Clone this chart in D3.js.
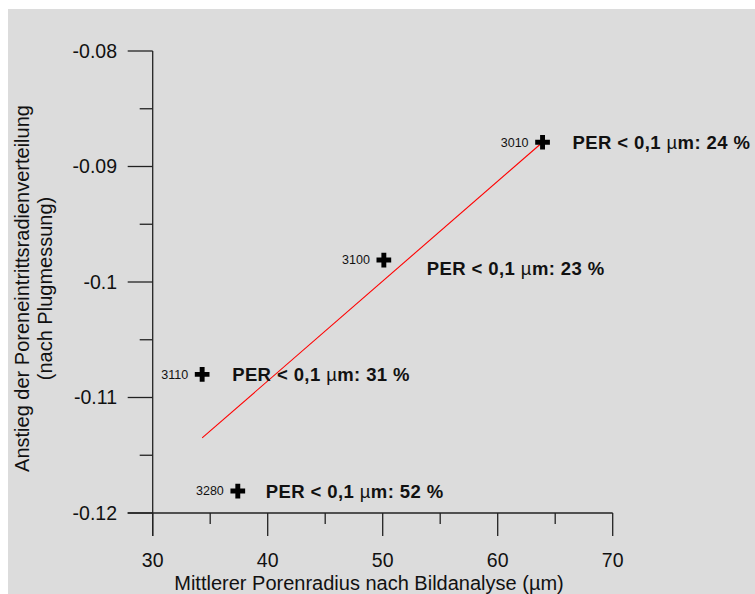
<!DOCTYPE html>
<html>
<head>
<meta charset="utf-8">
<script src="https://cdn.jsdelivr.net/npm/d3@7/dist/d3.min.js"></script>
<style>
html,body{margin:0;padding:0;background:#fff;}
svg{display:block;font-family:"Liberation Sans",Arial,sans-serif;}
</style>
</head>
<body>
<svg id="chart" width="755" height="594"></svg>
<script>
// ---- data ----
const sampleIds = ["3010", "3100", "3110", "3280"];
const meanPoreRadius = [63.9, 50.1, 34.3, 37.4];          // x (µm)
const slopeValues = [-0.0879, -0.0981, -0.1080, -0.1181];  // y
const perPercent = [24, 23, 31, 52];
const fitX = [34.3, 63.9];
const fitY = [-0.1135, -0.0879];
const xTicks = [30, 40, 50, 60, 70];
const yTicks = [-0.08, -0.09, -0.1, -0.11, -0.12];
const yTickLabels = ["-0.08", "-0.09", "-0.1", "-0.11", "-0.12"];

// ---- layout (pixel offsets for annotations, not data) ----
const perOffsets = [[30, 0], [43, 8], [30, 0], [28, 0]];

const svg = d3.select("#chart");
svg.append("rect").attr("x", 8).attr("y", 9).attr("width", 747).attr("height", 585).attr("fill", "#dcdcdc");

const x = d3.scaleLinear().domain([30, 70]).range([152.7, 612.7]);
const y = d3.scaleLinear().domain([-0.12, -0.08]).range([513, 51]);

const axisColor = "#222";
// Y axis
const yAxis = svg.append("g");
yAxis.append("line").attr("x1", x(30)).attr("x2", x(30)).attr("y1", y(-0.08)).attr("y2", 536)
  .attr("stroke", axisColor).attr("stroke-width", 1.3);
const yMinor = d3.range(0, 4).map(i => -0.115 + i * 0.01);
yAxis.selectAll(".ymaj").data(yTicks).join("line")
  .attr("x1", x(30) - 25).attr("x2", x(30)).attr("y1", d => y(d)).attr("y2", d => y(d))
  .attr("stroke", axisColor).attr("stroke-width", 1.3);
yAxis.selectAll(".ymin").data(yMinor).join("line")
  .attr("x1", x(30) - 13).attr("x2", x(30)).attr("y1", d => y(d)).attr("y2", d => y(d))
  .attr("stroke", axisColor).attr("stroke-width", 1.3);
yAxis.selectAll(".ylab").data(yTicks).join("text")
  .attr("x", 117).attr("y", d => y(d)).attr("dy", "0.35em").attr("text-anchor", "end")
  .attr("font-size", 19.5).attr("fill", "#111").text((d, i) => yTickLabels[i]);

// X axis
const xAxis = svg.append("g");
xAxis.append("line").attr("x1", x(30) - 25).attr("x2", x(70)).attr("y1", y(-0.12)).attr("y2", y(-0.12))
  .attr("stroke", axisColor).attr("stroke-width", 1.3);
const xMinor = [35, 45, 55, 65];
xAxis.selectAll(".xmaj").data(xTicks).join("line")
  .attr("x1", d => x(d)).attr("x2", d => x(d)).attr("y1", y(-0.12)).attr("y2", 536)
  .attr("stroke", axisColor).attr("stroke-width", 1.3);
xAxis.selectAll(".xmin").data(xMinor).join("line")
  .attr("x1", d => x(d)).attr("x2", d => x(d)).attr("y1", y(-0.12)).attr("y2", 524)
  .attr("stroke", axisColor).attr("stroke-width", 1.3);
xAxis.selectAll(".xlab").data(xTicks).join("text")
  .attr("x", d => x(d)).attr("y", 567).attr("text-anchor", "middle")
  .attr("font-size", 19.5).attr("fill", "#111").text(d => d);

// Axis titles
svg.append("text").attr("x", 369).attr("y", 590).attr("text-anchor", "middle")
  .attr("font-size", 20).attr("fill", "#111").text("Mittlerer Porenradius nach Bildanalyse (µm)");
const yt = svg.append("text").attr("transform", "translate(0,288.5) rotate(-90)")
  .attr("text-anchor", "middle").attr("font-size", 20).attr("fill", "#111");
yt.append("tspan").attr("x", 0).attr("y", 29).text("Anstieg der Poreneintrittsradienverteilung");
yt.append("tspan").attr("x", 0).attr("y", 52).text("(nach Plugmessung)");

// Regression line
svg.append("path")
  .datum(fitX.map((v, i) => [v, fitY[i]]))
  .attr("d", d3.line().x(d => x(d[0])).y(d => y(d[1])))
  .attr("fill", "none").attr("stroke", "#ff0000").attr("stroke-width", 1.1);

// Points
const pts = sampleIds.map((id, i) => ({id, xv: meanPoreRadius[i], yv: slopeValues[i], per: perPercent[i], off: perOffsets[i]}));
const g = svg.append("g");
const plus = d3.symbol().type(d3.symbolCross).size(120);
g.selectAll(".pt").data(pts).join("path")
  .attr("transform", d => `translate(${x(d.xv)},${y(d.yv)})`)
  .attr("d", plus).attr("fill", "#000");
g.selectAll(".id").data(pts).join("text")
  .attr("x", d => x(d.xv) - 14).attr("y", d => y(d.yv)).attr("dy", "0.35em")
  .attr("text-anchor", "end").attr("font-size", 12.5).attr("fill", "#111").text(d => d.id);
const per = g.selectAll(".per").data(pts).join("text")
  .attr("x", d => x(d.xv) + d.off[0]).attr("y", d => y(d.yv) + d.off[1]).attr("dy", "0.35em")
  .attr("font-size", 18.5).attr("letter-spacing", 0.4).attr("font-weight", "bold").attr("fill", "#111");
per.append("tspan").text("PER < 0,1 ");
per.append("tspan").attr("font-weight", "normal").text("µ");
per.append("tspan").text(d => `m: ${d.per} %`);
</script>
</body>
</html>
